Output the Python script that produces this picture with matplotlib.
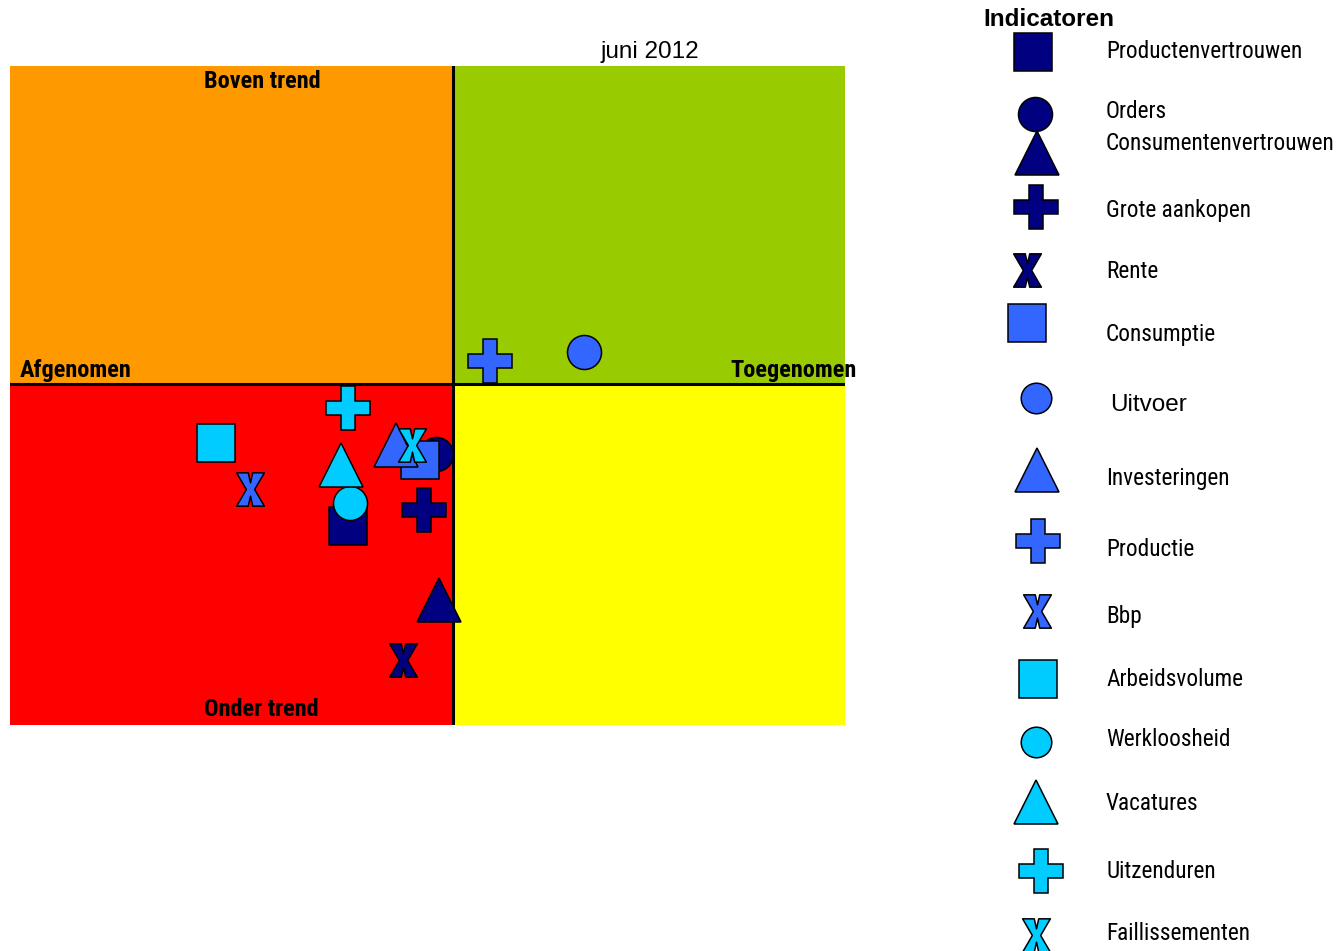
import matplotlib.pyplot as plt
from matplotlib import font_manager
from matplotlib.patches import Rectangle
from matplotlib.path import Path

# indicatoren, juni 2012
indicatoren = ["Productenvertrouwen", "Orders", "Consumentenvertrouwen", "Grote aankopen", "Rente",
               "Consumptie", "Uitvoer", "Investeringen", "Productie", "Bbp",
               "Arbeidsvolume", "Werkloosheid", "Vacatures", "Uitzenduren", "Faillissementen"]
# x: afgenomen (-) / toegenomen (+), y: onder trend (-) / boven trend (+)
verandering = [-1.05, -0.17, -0.14, -0.29, -0.50,
               -0.33, 1.31, -0.57, 0.37, -2.03,
               -2.37, -1.03, -1.12, -1.05, -0.41]
trend = [-1.42, -0.70, -2.16, -1.26, -2.76,
         -0.76, 0.32, -0.61, 0.23, -1.05,
         -0.59, -1.19, -0.81, -0.24, -0.61]

navy, blauw, cyaan = "#000080", "#3366FF", "#00CCFF"
kleuren = [navy] * 5 + [blauw] * 5 + [cyaan] * 5

# vette letter X als marker
letter_x = Path([(-0.5, 0.6), (-0.08, 0.6), (0, 0.24), (0.08, 0.6), (0.5, 0.6), (0.15, 0.0),
                 (0.5, -0.6), (0.08, -0.6), (0, -0.24), (-0.08, -0.6), (-0.5, -0.6), (-0.15, 0.0),
                 (-0.5, 0.6)], closed=True)
vormen = ["s", "o", "^", "P", letter_x] * 3
groottes = {"s": 27, "o": 24.5, "^": 32, "P": 31}


def marker_grootte(m):
    return groottes.get(m, 24) if isinstance(m, str) else 24


# smalle letter (Arial Narrow-achtig) zoeken, anders gewone sans
def zoek_smal():
    beste = None
    for f in font_manager.fontManager.ttflist:
        naam = f.name
        st = str(f.stretch).lower()
        smal_ = "narrow" in naam.lower() or "condensed" in naam.lower() or "condensed" in st
        if not smal_:
            continue
        for rang, sleutel in enumerate(["Liberation", "Arial", "Roboto", "Open Sans"]):
            if sleutel in naam and (beste is None or rang < beste[0]):
                beste = (rang, naam, f.stretch)
    return beste


gewoon = ["Liberation Sans", "DejaVu Sans"]
gevonden = zoek_smal()
if gevonden:
    smal_kw = dict(family=[gevonden[1], "DejaVu Sans"], stretch=gevonden[2])
else:
    smal_kw = dict(family=gewoon)

fig = plt.figure(figsize=(13.39, 9.51), dpi=100)
W, H = 1339, 951
ax = fig.add_axes([10 / W, 1 - 725 / H, 835 / W, 659 / H])
xmin, xmax, ymin, ymax = -4.43, 3.92, -3.41, 3.18
ax.set_xlim(xmin, xmax)
ax.set_ylim(ymin, ymax)
ax.add_patch(Rectangle((xmin, 0), -xmin, ymax, color="#FF9900", zorder=0))
ax.add_patch(Rectangle((0, 0), xmax, ymax, color="#99CC00", zorder=0))
ax.add_patch(Rectangle((xmin, ymin), -xmin, -ymin, color="#FF0000", zorder=0))
ax.add_patch(Rectangle((0, ymin), xmax, -ymin, color="#FFFF00", zorder=0))
ax.axhline(0, color="black", lw=2.2, zorder=1)
ax.axvline(0, color="black", lw=2.2, zorder=1)
ax.axis("off")

for i in range(len(indicatoren)):
    m = vormen[i]
    ax.plot(verandering[i], trend[i], marker=m, ms=marker_grootte(m), color=kleuren[i],
            mec="black", mew=1.1, ls="none", zorder=2 + i)

# tekstlaag in pixels
ov = fig.add_axes([0, 0, 1, 1])
ov.set_xlim(0, W)
ov.set_ylim(H, 0)
ov.axis("off")

# lettergrootte zo kiezen dat de breedte op de smalle letter lijkt
r = fig.canvas.get_renderer()


def pas_grootte(tekst, doel, **kw):
    t = ov.text(0, 0, tekst, fontsize=17.5, **kw)
    w = t.get_window_extent(r).width
    t.remove()
    return min(17.5, 17.5 * doel / w)


fs_smal = pas_grootte("Productenvertrouwen", 196, **smal_kw)
fs_vet = pas_grootte("Boven trend", 118, weight="bold", **smal_kw)

ov.text(650, 52, "juni 2012", fontsize=17.5, family=gewoon, ha="center", va="center")
ov.text(262, 82, "Boven trend", fontsize=fs_vet, weight="bold", ha="center", va="center", **smal_kw)
ov.text(261, 710, "Onder trend", fontsize=fs_vet, weight="bold", ha="center", va="center", **smal_kw)
ov.text(20, 370, "Afgenomen", fontsize=fs_vet, weight="bold", ha="left", va="center", **smal_kw)
ov.text(857, 370, "Toegenomen", fontsize=fs_vet, weight="bold", ha="right", va="center", **smal_kw)

# legenda
ov.text(983, 20, "Indicatoren", fontsize=17.5, family=gewoon, weight="bold", ha="left", va="center")
label_y = [52, 112, 144, 211, 272, 334, 405, 478, 550, 617, 679, 739, 804, 871, 934]
marker_xy = [(1033, 52), (1035, 114), (1037, 153), (1036, 207), (1027, 270),
             (1027, 323), (1036, 398), (1037, 470), (1038, 541), (1037, 611),
             (1038, 679), (1036, 742), (1036, 802), (1041, 871), (1036, 935)]
for i, naam in enumerate(indicatoren):
    if naam == "Uitvoer":
        ov.text(1110, label_y[i], naam, fontsize=17.5, family=gewoon, ha="left", va="center")
    else:
        ov.text(1106, label_y[i], naam, fontsize=fs_smal, ha="left", va="center", **smal_kw)
    m = vormen[i]
    ms = marker_grootte(m)
    if m == "o" and i > 4:
        ms = 22
    ov.plot(*marker_xy[i], marker=m, ms=ms, color=kleuren[i], mec="black", mew=1.1, ls="none")

fig.savefig("out.png", dpi=100)
